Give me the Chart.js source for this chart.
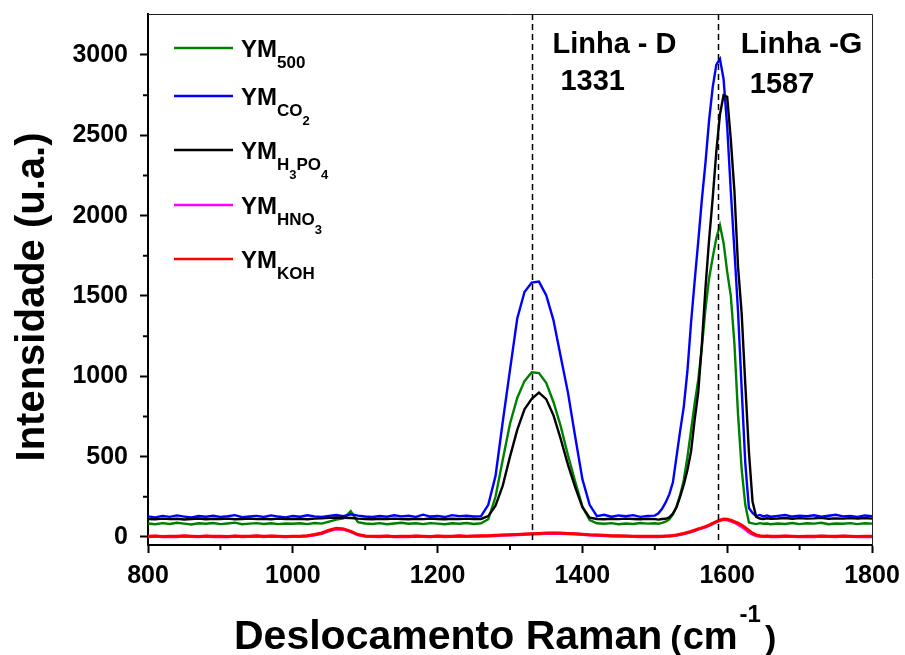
<!DOCTYPE html>
<html><head><meta charset="utf-8">
<script src="https://cdn.jsdelivr.net/npm/chart.js@4.4.0/dist/chart.umd.min.js"></script>
<style>html,body{margin:0;padding:0;background:#fff;}</style>
</head><body>
<canvas id="c" width="905" height="655"></canvas>
<script>
// ---------- DATA ----------
const wavenumbers = [
 800,810,820,830,840,850,860,870,880,890,
 900,910,920,930,940,950,960,970,980,990,
 1000,1010,1020,1030,1040,1050,1060,1070,1080,1090,
 1100,1110,1120,1130,1140,1150,1160,1170,1180,1190,
 1200,1210,1220,1230,1240,1250,1260,1270,1280,1290,
 1300,1310,1320,1330,1340,1350,1360,1370,1380,1390,
 1400,1410,1420,1430,1440,1450,1460,1470,1480,1490,
 1500,1505,1510,1515,1520,1525,1530,1535,1540,1545,
 1550,1555,1560,1565,1570,1575,1580,1585,1590,1595,
 1600,1605,1610,1615,1620,1625,1630,1635,1640,1645,
 1650,1655,1660,1670,1680,1690,1700,1710,1720,1730,
 1740,1750,1760,1770,1780,1790,1800];

const ym500 = [
 84,79,86,81,88,83,78,85,82,87,
 80,84,89,79,83,86,81,85,80,84,
 82,85,80,87,83,95,108,115,160,92,
 84,81,86,79,84,88,82,85,80,86,
 83,79,85,82,87,81,85,110,250,480,
 705,865,970,1025,1020,960,840,690,510,345,
 190,105,85,82,86,79,84,81,87,83,
 85,82,88,95,110,140,190,260,355,495,
 660,830,977,1180,1420,1610,1740,1860,1940,1830,
 1650,1500,1200,760,420,200,90,85,80,86,
 82,84,79,84,81,87,80,85,83,88,
 79,84,82,86,80,85,83];

const ymCO2 = [
 128,122,131,125,134,127,121,130,126,133,
 124,129,136,123,128,131,125,134,127,122,
 130,126,135,128,124,131,137,129,141,133,
 127,124,130,126,135,128,132,125,139,127,
 130,124,136,129,133,127,130,200,380,717,
 1040,1360,1525,1583,1589,1505,1350,1123,900,625,
 360,200,130,138,126,134,129,136,125,131,
 133,147,175,215,265,340,500,660,810,1030,
 1330,1590,1840,2100,2330,2595,2800,2940,2975,2850,
 2554,2150,1780,1400,920,458,180,150,130,137,
 128,134,126,131,137,127,133,129,135,126,
 132,138,128,131,125,134,129];

const ymH3PO4 = [
 112,110,114,111,113,109,112,115,110,113,
 111,114,110,112,115,111,113,110,114,112,
 111,113,110,114,116,119,121,120,118,114,
 112,110,113,111,114,112,110,113,111,115,
 112,110,113,111,114,112,112,130,195,320,
 500,666,795,860,898,858,758,610,450,310,
 185,120,112,110,113,111,114,112,110,113,
 111,108,112,113,122,145,185,251,325,415,
 530,728,900,1200,1550,1850,2110,2400,2630,2750,
 2740,2471,2150,1682,1390,950,530,220,125,115,
 112,116,113,115,118,113,117,114,116,119,
 113,116,114,117,115,118,114];

const ymHNO3 = [
 2,4,1,3,2,5,3,1,4,2,
 3,1,4,2,3,5,2,4,3,1,
 3,3,6,12,22,38,50,48,33,13,
 4,3,2,4,1,3,2,4,3,1,
 4,2,3,5,3,4,5,6,8,10,
 12,14,16,18,20,22,23,22,20,18,
 15,12,10,8,6,5,4,3,2,3,
 2,2,3,4,5,7,10,15,20,26,
 32,40,48,55,62,72,83,94,103,108,
 106,99,90,78,64,47,30,16,8,4,
 3,4,2,2,4,3,1,3,2,4,
 3,2,4,3,1,3,2];

const ymKOH = [
 4,6,3,5,4,7,5,3,6,4,
 5,3,6,4,5,7,4,6,5,3,
 5,5,8,15,25,42,54,50,35,15,
 6,5,4,6,3,5,4,6,5,3,
 6,4,5,7,5,6,7,8,10,12,
 14,16,18,20,22,24,25,24,22,20,
 17,14,12,10,8,7,6,5,4,5,
 4,4,5,6,7,9,12,17,22,28,
 34,42,50,57,64,74,85,96,105,111,
 110,104,96,86,74,58,40,24,13,8,
 5,6,4,4,6,5,3,5,4,6,
 5,4,6,5,3,5,4];

const seriesNames = ['YM500','YMCO2','YMH3PO4','YMHNO3','YMKOH'];
const seriesColors = ['#008000','#0000FF','#000000','#FF00FF','#FF0000'];
// legend label pieces: [text, level] (0 normal, 1 subscript, 2 sub-subscript)
const legendParts = [
 [['YM',0],['500',1]],
 [['YM',0],['CO',1],['2',2]],
 [['YM',0],['H',1],['3',2],['PO',1],['4',2]],
 [['YM',0],['HNO',1],['3',2]],
 [['YM',0],['KOH',1]]
];
const xTicks = [800,1000,1200,1400,1600,1800];
const xMinor = [900,1100,1300,1500,1700];
const yTicks = [0,500,1000,1500,2000,2500,3000];
const yMinor = [250,750,1250,1750,2250,2750];
const peakLines = [1331,1587];
const peakTitles = ['Linha - D','Linha -G'];
const peakValues = ['1331','1587'];

// ---------- CHART ----------
const FONT = "'Liberation Sans', Arial, sans-serif";
const allSeries = [ym500, ymCO2, ymH3PO4, ymHNO3, ymKOH];
const datasets = allSeries.map((arr, i) => ({
  label: seriesNames[i],
  data: wavenumbers.map((x, k) => ({x: x, y: arr[k]})),
  borderColor: seriesColors[i],
  backgroundColor: seriesColors[i],
  borderWidth: i >= 3 ? 3 : 2.4,
  pointRadius: 0,
  tension: 0,
  order: 4 - i
}));

const decor = {
  id: 'decor',
  afterDraw(chart) {
    const ctx = chart.ctx;
    const a = chart.chartArea;
    const xs = chart.scales.x, ys = chart.scales.y;
    ctx.save();
    // top / right frame
    ctx.strokeStyle = '#222';
    ctx.lineWidth = 1;
    ctx.beginPath();
    ctx.moveTo(a.left, a.top + 0.5); ctx.lineTo(a.right + 0.5, a.top + 0.5);
    ctx.lineTo(a.right + 0.5, a.bottom);
    ctx.stroke();
    // minor ticks
    ctx.strokeStyle = '#000';
    ctx.lineWidth = 2;
    ctx.beginPath();
    xMinor.forEach(v => { const p = xs.getPixelForValue(v); ctx.moveTo(p, a.bottom); ctx.lineTo(p, a.bottom + 5); });
    yMinor.forEach(v => { const p = ys.getPixelForValue(v); ctx.moveTo(a.left, p); ctx.lineTo(a.left - 5, p); });
    ctx.stroke();
    // dashed peak lines
    ctx.lineWidth = 1.5;
    ctx.setLineDash([6, 4]);
    ctx.beginPath();
    peakLines.forEach(v => { const p = Math.round(xs.getPixelForValue(v)) + 0.5; ctx.moveTo(p, a.top); ctx.lineTo(p, a.bottom); });
    ctx.stroke();
    ctx.setLineDash([]);
    // peak annotations
    ctx.fillStyle = '#000';
    ctx.textAlign = 'left';
    ctx.textBaseline = 'alphabetic';
    peakLines.forEach((v, i) => {
      const p = xs.getPixelForValue(v);
      ctx.font = 'bold ' + (i === 0 ? 29 : 30) + 'px ' + FONT;
      ctx.fillText(peakTitles[i], p + (i === 0 ? 20 : 23), 53);
      ctx.font = 'bold 29px ' + FONT;
      ctx.fillText(peakValues[i], p + (i === 0 ? 28 : 32), i === 0 ? 90 : 93);
    });
    // legend
    const legY = [48, 96, 150, 205, 259];
    legendParts.forEach((parts, i) => {
      const y = legY[i];
      ctx.strokeStyle = seriesColors[i];
      ctx.lineWidth = 2.5;
      ctx.beginPath(); ctx.moveTo(174, y); ctx.lineTo(233, y); ctx.stroke();
      let x = 241;
      parts.forEach(([t, lvl]) => {
        const size = lvl === 0 ? 24 : (lvl === 1 ? 17 : 13);
        const by = y + 9 + (lvl === 0 ? 0 : (lvl === 1 ? 11 : 20));
        ctx.font = 'bold ' + size + 'px ' + FONT;
        ctx.fillText(t, x, by);
        x += ctx.measureText(t).width;
      });
    });
    // y axis title
    ctx.save();
    ctx.translate(44, 297);
    ctx.rotate(-Math.PI / 2);
    ctx.textAlign = 'center';
    ctx.font = 'bold 40px ' + FONT;
    ctx.fillText('Intensidade (u.a.)', 0, 0);
    ctx.restore();
    // x axis title
    const base = 649;
    ctx.font = 'bold 41px ' + FONT;
    ctx.fillText('Deslocamento Raman', 234, base);
    let x = 234 + ctx.measureText('Deslocamento Raman').width + 8;
    ctx.font = 'bold 34px ' + FONT;
    ctx.fillText('(', x, base); x += ctx.measureText('(').width + 1;
    ctx.font = 'bold 38px ' + FONT;
    ctx.fillText('cm', x, base); x += ctx.measureText('cm').width + 2;
    ctx.font = 'bold 24px ' + FONT;
    ctx.fillText('-1', x, base - 27); x += ctx.measureText('-1').width + 4;
    ctx.font = 'bold 34px ' + FONT;
    ctx.fillText(')', x, base);
    ctx.restore();
  }
};

new Chart(document.getElementById('c'), {
  type: 'line',
  data: { datasets },
  options: {
    responsive: false,
    animation: false,
    devicePixelRatio: 1,
    layout: { padding: { top: 14, right: 33, left: 0, bottom: 0 } },
    plugins: { legend: { display: false }, tooltip: { enabled: false } },
    scales: {
      x: {
        type: 'linear', min: 800, max: 1800,
        afterFit: s => { s.height = 110; s.paddingLeft = 0; s.paddingRight = 0; },
        afterBuildTicks: s => { s.ticks = xTicks.map(v => ({ value: v })); },
        grid: { display: true, drawOnChartArea: false, drawTicks: true, tickLength: 8, tickWidth: 2, tickColor: '#000' },
        border: { display: true, color: '#000', width: 2 },
        ticks: { color: '#000', font: { family: FONT, weight: 'bold', size: 25 }, padding: 8, maxRotation: 0, autoSkip: false, callback: v => String(v) }
      },
      y: {
        type: 'linear', min: -50, max: 3255,
        afterFit: s => { s.width = 148; s.paddingTop = 0; s.paddingBottom = 0; },
        afterBuildTicks: s => { s.ticks = yTicks.map(v => ({ value: v })); },
        grid: { display: true, drawOnChartArea: false, drawTicks: true, tickLength: 8, tickWidth: 2, tickColor: '#000' },
        border: { display: true, color: '#000', width: 2 },
        ticks: { color: '#000', font: { family: FONT, weight: 'bold', size: 25 }, padding: 12, autoSkip: false, callback: v => String(v) }
      }
    }
  },
  plugins: [decor]
});
</script>
</body></html>
